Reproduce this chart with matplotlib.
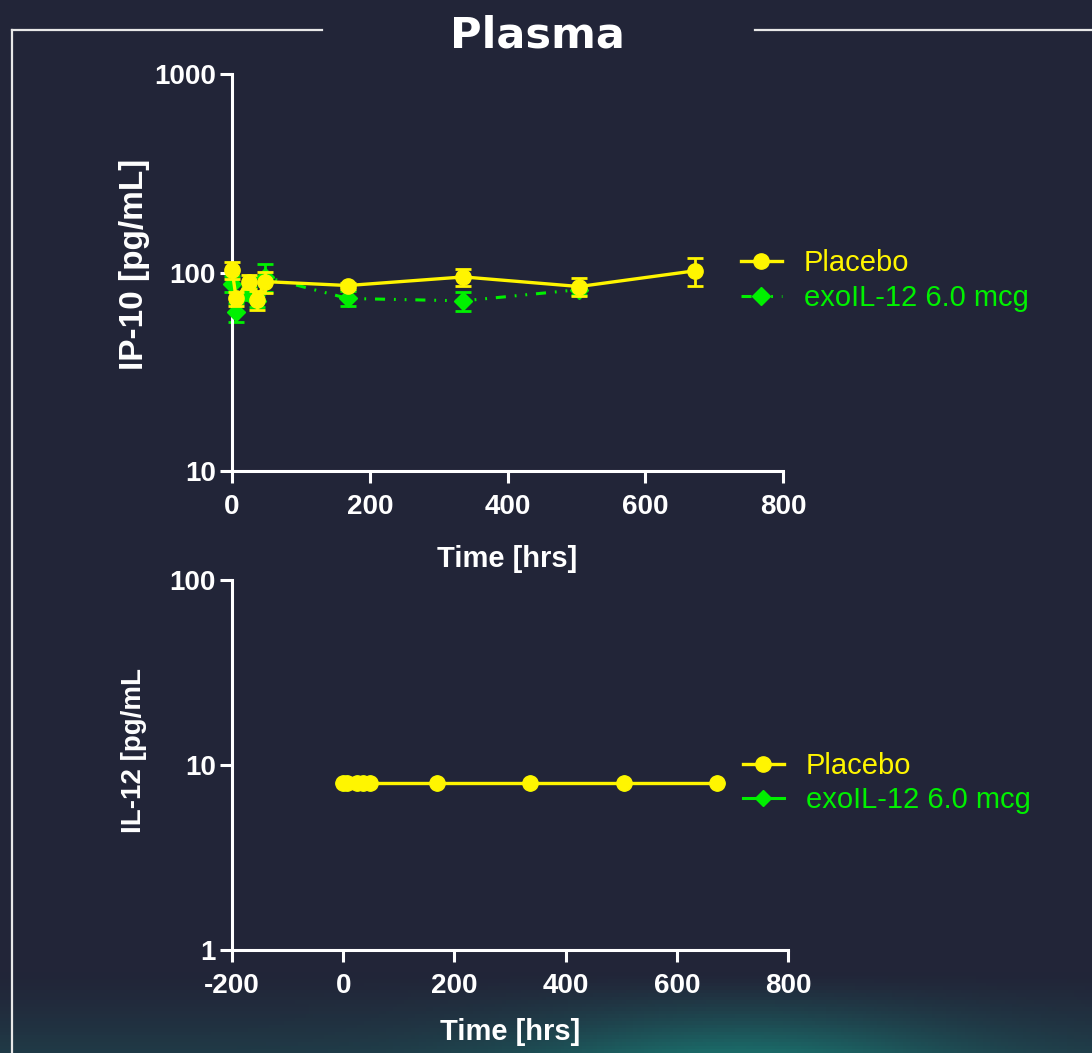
import numpy as np
import matplotlib
matplotlib.use('Agg')
import matplotlib.pyplot as plt
from matplotlib.lines import Line2D
from matplotlib.ticker import NullLocator

# IP-10 (pg/mL) vs time (hrs)
t_ip10 = [0, 6, 24, 36, 48, 168, 336, 504, 672]
ip10_placebo = [103, 74, 90, 73, 90, 86, 95, 85, 102]
ip10_placebo_err = [10, 6, 7, 8, 11, 3, 9, 9, 16]

t_ip10_exo = [0, 6, 24, 36, 48, 168, 336, 504]
ip10_exo = [88, 63, 79, 72, 95, 74, 72, 82]
ip10_exo_err = [8, 7, 6, 5, 15, 6.5, 8, 5]

# IL-12 (pg/mL) vs time (hrs)
t_il12 = [0, 6, 24, 36, 48, 168, 336, 504, 672]
il12_placebo = [8, 8, 8, 8, 8, 8, 8, 8, 8]
il12_exo = [8, 8, 8, 8, 8, 8, 8, 8, 8]

labels = ['Placebo', 'exoIL-12 6.0 mcg']
c_pla = '#FFF500'
c_exo = '#00F000'
bg = '#222538'
fg = 'white'

plt.rcParams['font.family'] = ['Liberation Sans', 'DejaVu Sans']
plt.rcParams['font.weight'] = 'bold'

fig = plt.figure(figsize=(10.92, 10.53), dpi=100, facecolor=bg)

# background with a faint teal glow at the bottom
bga = fig.add_axes([0, 0, 1, 1], zorder=-10)
gx, gy = np.meshgrid(np.linspace(0, 1, 300), np.linspace(0, 1, 300))
glow = np.clip((0.075 - gy) / 0.075, 0, 1) ** 1.3
glow = glow * (0.3 + 0.7 * np.exp(-((gx - 0.68) / 0.2) ** 2))
base = np.array([0x22, 0x25, 0x38]) / 255.0
teal = np.array([0x1b, 0x6a, 0x68]) / 255.0
img = base[None, None, :] * (1 - glow[..., None]) + teal[None, None, :] * glow[..., None]
bga.imshow(img, origin='lower', extent=[0, 1, 0, 1], aspect='auto')
bga.set_axis_off()

# frame lines + title
fig.add_artist(Line2D([0.011, 0.011], [0.0, 0.9715], color='#e8e8e8', lw=1.6))
fig.add_artist(Line2D([0.011, 0.295], [0.9715, 0.9715], color='#e8e8e8', lw=1.6))
fig.add_artist(Line2D([0.691, 1.0], [0.9715, 0.9715], color='#e8e8e8', lw=1.6))
fig.text(0.4918, 0.966, 'Plasma', ha='center', va='center', color='white',
         fontsize=31, fontweight='bold', family='DejaVu Sans')

exo_ls = (0, (3.3, 2.9, 0.6, 2.9, 0.6, 2.9))


def style_axes(ax, xticks, yticks):
  ax.set_facecolor('none')
  for s in ['top', 'right']:
    ax.spines[s].set_visible(False)
  for s in ['left', 'bottom']:
    ax.spines[s].set_color(fg)
    ax.spines[s].set_linewidth(2.2)
  ax.set_yscale('log')
  ax.set_yticks(yticks)
  ax.set_yticklabels([str(v) for v in yticks])
  ax.yaxis.set_minor_locator(NullLocator())
  ax.set_xticks(xticks)
  ax.set_xticklabels([str(v) for v in xticks])
  ax.tick_params(colors=fg, labelsize=20, width=2.2, length=8.5)
  ax.tick_params(axis='x', pad=8)
  ax.tick_params(axis='y', pad=3)


def add_legend(ax, handles, anchor):
  leg = ax.legend(handles=handles, labels=labels, loc='center left',
                  bbox_to_anchor=anchor, bbox_transform=fig.transFigure,
                  frameon=False, borderpad=0, borderaxespad=0,
                  handlelength=1.4, handletextpad=0.75, labelspacing=0.22,
                  prop={'family': 'Liberation Sans', 'weight': 'normal', 'size': 21})
  for txt, c in zip(leg.get_texts(), [c_pla, c_exo]):
    txt.set_color(c)
  return leg


# ---------------- IP-10 ----------------
ax1 = fig.add_axes([0.2125, 0.5527, 0.5046, 0.3770])
style_axes(ax1, [0, 200, 400, 600, 800], [10, 100, 1000])
ax1.set_xlim(0, 800)
ax1.set_ylim(10, 1000)

ax1.errorbar(t_ip10_exo, ip10_exo, yerr=ip10_exo_err, fmt='none', ecolor=c_exo,
             elinewidth=2, capsize=5.5, capthick=2, clip_on=False, zorder=2)
h_exo, = ax1.plot(t_ip10_exo, ip10_exo, color=c_exo, lw=2.2, ls=exo_ls,
                  marker='D', ms=9, clip_on=False, zorder=3)
ax1.errorbar(t_ip10, ip10_placebo, yerr=ip10_placebo_err, fmt='none', ecolor=c_pla,
             elinewidth=2, capsize=5.5, capthick=2, clip_on=False, zorder=4)
h_pla, = ax1.plot(t_ip10, ip10_placebo, color=c_pla, lw=2.4, marker='o', ms=11,
                  clip_on=False, zorder=5)

ax1.set_xlabel('Time [hrs]', fontsize=21, color=fg, fontweight='bold')
ax1.set_ylabel('IP-10 [pg/mL]', fontsize=24, color=fg, fontweight='bold')
ax1.xaxis.set_label_coords(0.5, -0.186)
ax1.yaxis.set_label_coords(-0.148, 0.52)
add_legend(ax1, [h_pla, h_exo], (0.6786, 0.7336))

# ---------------- IL-12 ----------------
ax2 = fig.add_axes([0.2125, 0.0978, 0.5092, 0.3514])
style_axes(ax2, [-200, 0, 200, 400, 600, 800], [1, 10, 100])
ax2.set_xlim(-200, 800)
ax2.set_ylim(1, 100)

h2_exo, = ax2.plot(t_il12, il12_exo, color=c_exo, lw=2.2, marker='D', ms=8,
                   clip_on=False, zorder=3)
h2_pla, = ax2.plot(t_il12, il12_placebo, color=c_pla, lw=2.4, marker='o', ms=11,
                   clip_on=False, zorder=5)

ax2.set_xlabel('Time [hrs]', fontsize=21, color=fg, fontweight='bold')
ax2.set_ylabel('IL-12 [pg/mL', fontsize=20, color=fg, fontweight='bold')
ax2.xaxis.set_label_coords(0.5, -0.184)
ax2.yaxis.set_label_coords(-0.153, 0.538)
add_legend(ax2, [h2_pla, h2_exo], (0.6804, 0.2564))

fig.savefig('out.png', dpi=100, facecolor=bg)
